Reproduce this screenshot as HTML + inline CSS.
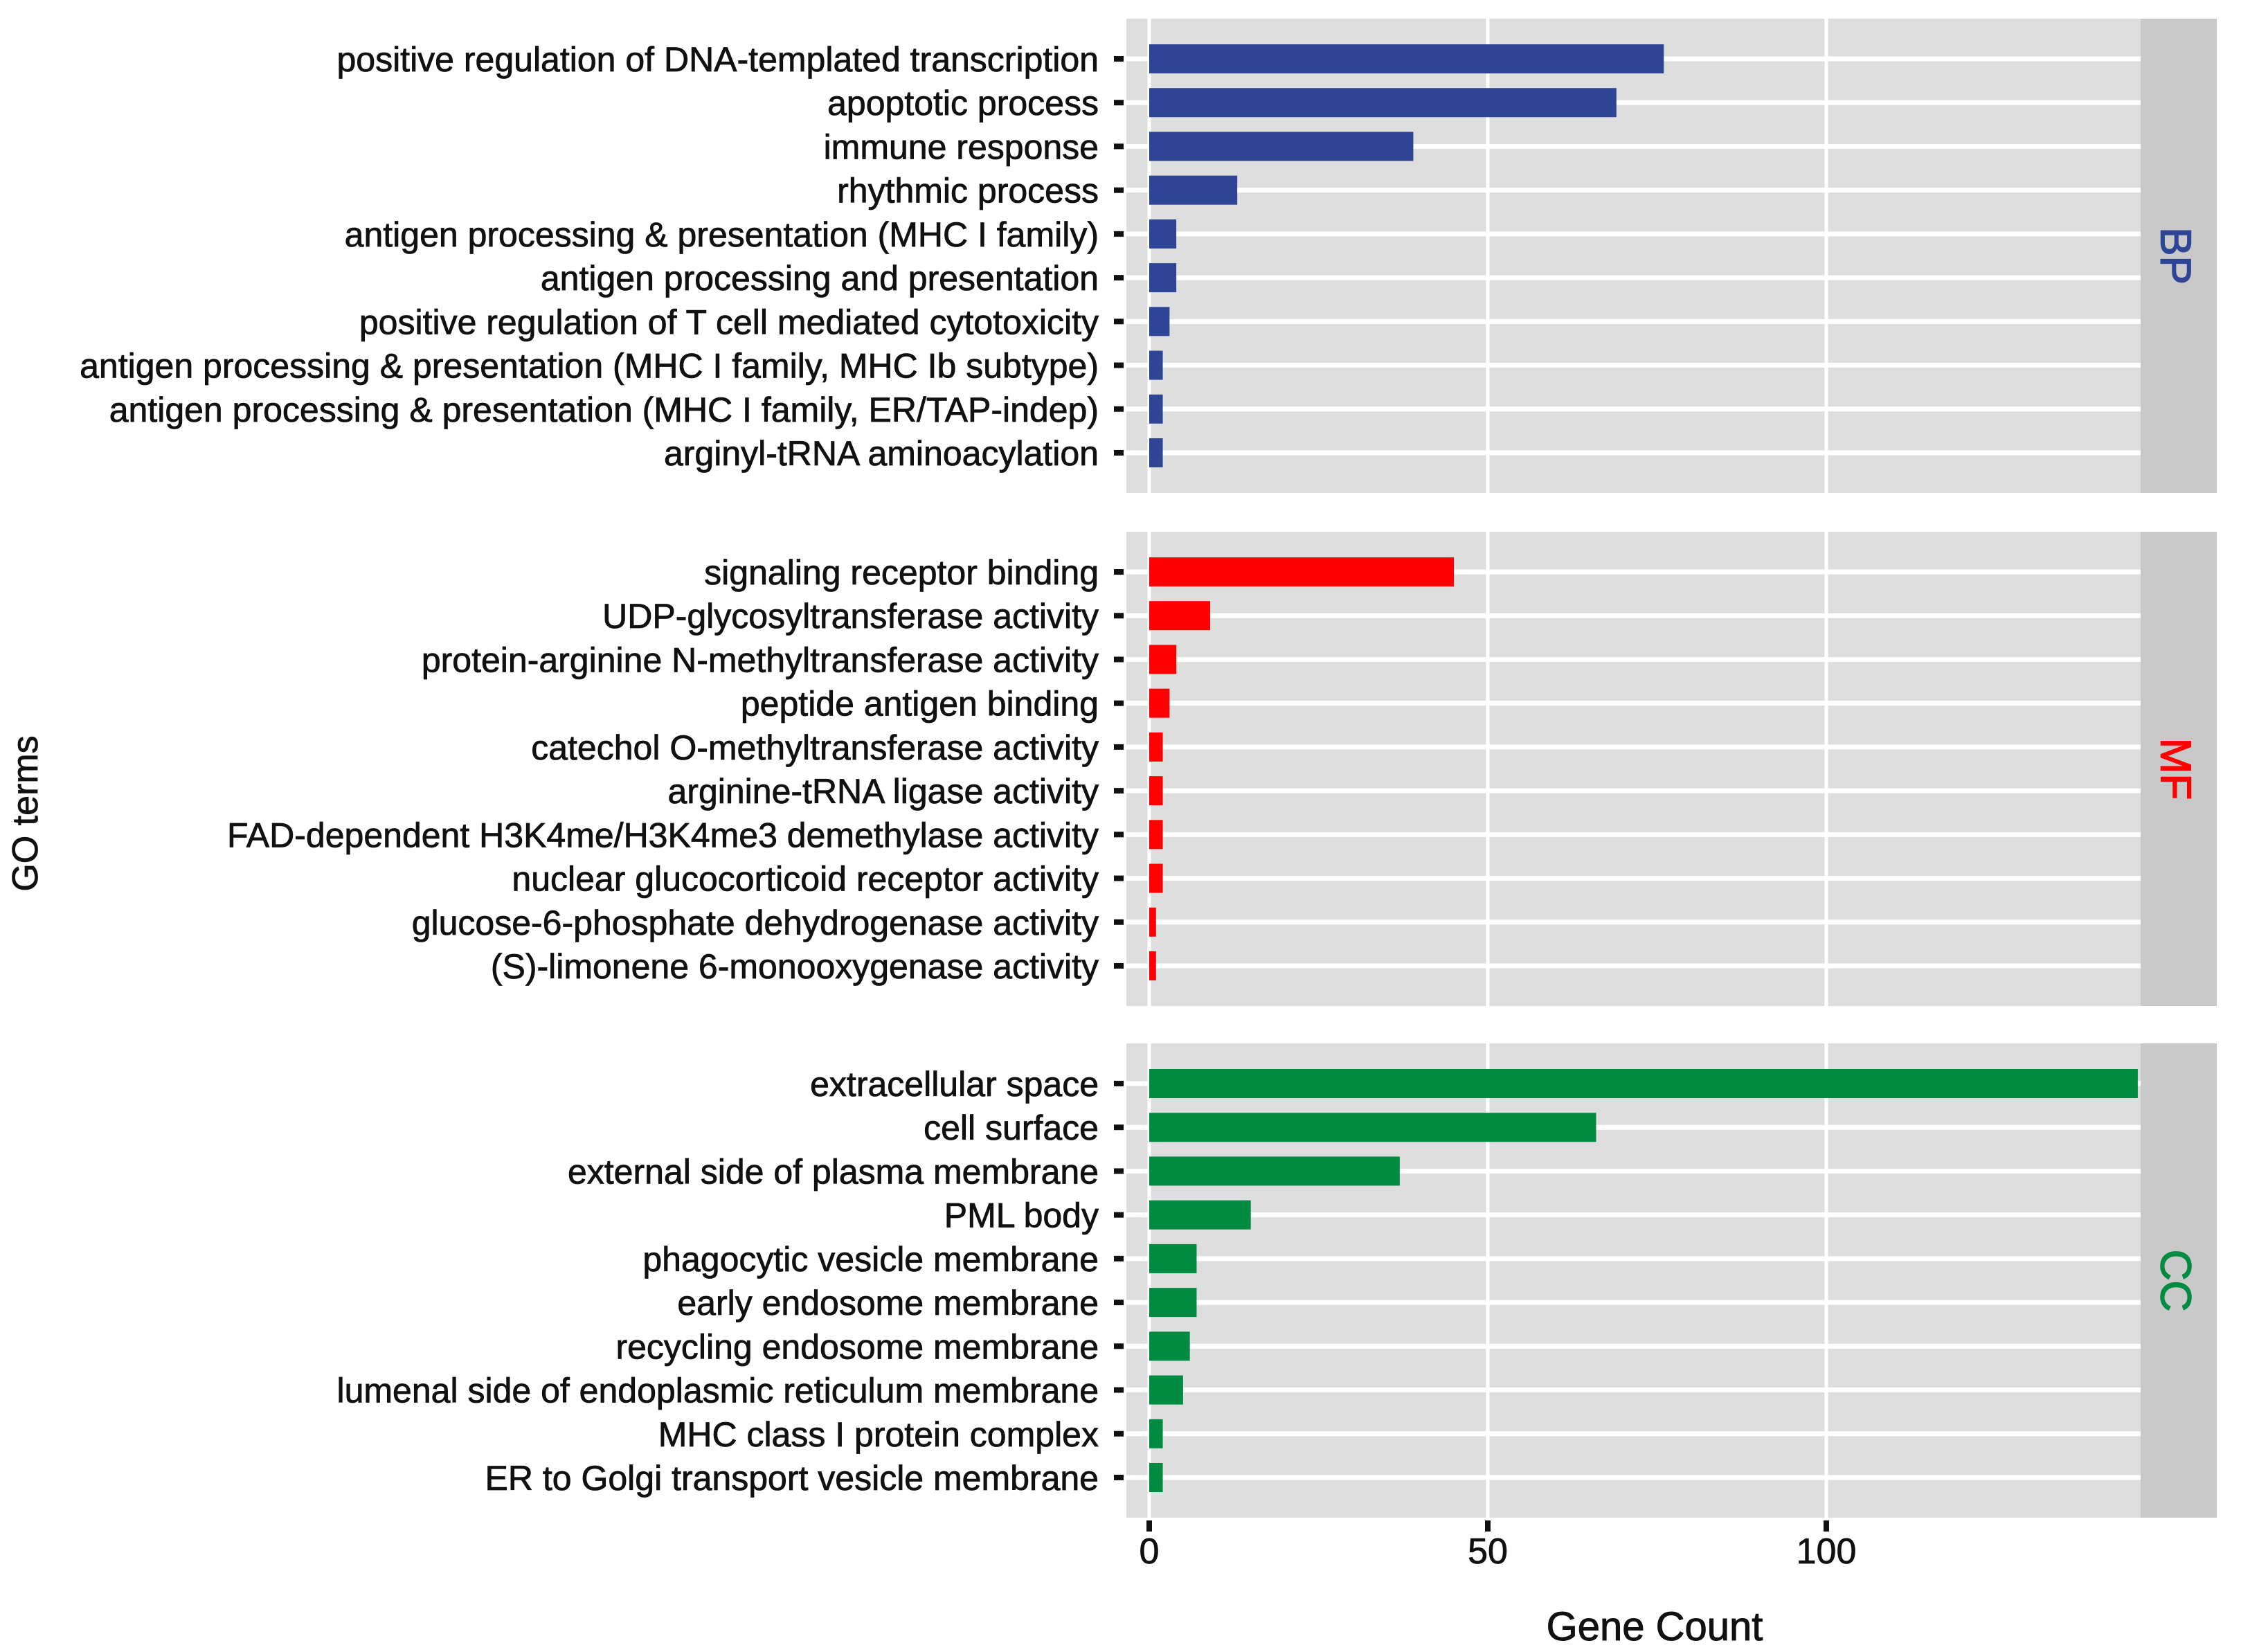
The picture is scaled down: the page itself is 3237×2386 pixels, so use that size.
<!DOCTYPE html>
<html><head><meta charset="utf-8"><style>
html,body{margin:0;padding:0;background:#fff;}
svg{display:block;font-family:"Liberation Sans",Arial,sans-serif;}
</style></head><body>
<svg id="chart" width="3237" height="2386" viewBox="0 0 3237 2386" xmlns="http://www.w3.org/2000/svg"></svg>
<script>
const bpTerms = ["positive regulation of DNA-templated transcription","apoptotic process","immune response","rhythmic process","antigen processing & presentation (MHC I family)","antigen processing and presentation","positive regulation of T cell mediated cytotoxicity","antigen processing & presentation (MHC I family, MHC Ib subtype)","antigen processing & presentation (MHC I family, ER/TAP-indep)","arginyl-tRNA aminoacylation"];
const bpCounts = [76,69,39,13,4,4,3,2,2,2];
const mfTerms = ["signaling receptor binding","UDP-glycosyltransferase activity","protein-arginine N-methyltransferase activity","peptide antigen binding","catechol O-methyltransferase activity","arginine-tRNA ligase activity","FAD-dependent H3K4me/H3K4me3 demethylase activity","nuclear glucocorticoid receptor activity","glucose-6-phosphate dehydrogenase activity","(S)-limonene 6-monooxygenase activity"];
const mfCounts = [45,9,4,3,2,2,2,2,1,1];
const ccTerms = ["extracellular space","cell surface","external side of plasma membrane","PML body","phagocytic vesicle membrane","early endosome membrane","recycling endosome membrane","lumenal side of endoplasmic reticulum membrane","MHC class I protein complex","ER to Golgi transport vesicle membrane"];
const ccCounts = [146,66,37,15,7,7,6,5,2,2];
const panelNames = ["BP","MF","CC"];
const xTicks = [0,50,100];

const svg = document.getElementById('chart');
const NS = "http://www.w3.org/2000/svg";
function mk(tag, attrs, parent){const e=document.createElementNS(NS,tag);for(const k in attrs)e.setAttribute(k,attrs[k]);(parent||svg).appendChild(e);return e;}

const PX0=1627, PX1=3092, SX1=3202;
const X0=1660, PPU=9.78;
function xs(v){return X0+v*PPU;}
const panelTops=[27,768,1507], PH=685;
const colors=["#2E4494","#FF0000","#008B40"];
const termsAll=[bpTerms,mfTerms,ccTerms], countsAll=[bpCounts,mfCounts,ccCounts];

panelNames.forEach((pn,pi)=>{
  const top=panelTops[pi];
  const terms=termsAll[pi], counts=countsAll[pi];
  const n=terms.length;
  const pad=58;
  const step=(PH-2*pad)/(n-1);
  function ys(i){return top+pad+i*step;}
  const bg=mk('rect',{x:PX0,y:top,width:PX1-PX0,height:PH,fill:'#DEDEDE'});
  
  
  xTicks.forEach(t=>{
    const g=mk('line',{x1:xs(t),x2:xs(t),y1:top,y2:top+PH,stroke:'#fff','stroke-width':5});
    
    
  });
  terms.forEach((t,i)=>{
    const y=ys(i);
    const gl=mk('line',{x1:PX0,x2:PX1,y1:y,y2:y,stroke:'#fff','stroke-width':7});
    
    
    const bh=42;
    const b=mk('rect',{x:xs(0),y:y-bh/2,width:Math.max(0,xs(counts[i])-xs(0)),height:bh,fill:colors[pi]});
    
    
    const tk=mk('rect',{x:PX0-18,y:y-4,width:14,height:8,fill:'#111'});
    
    
    const lb=mk('text',{x:PX0-40,y:y+18,'text-anchor':'end','font-size':50,fill:'#111',stroke:'#111','stroke-width':0.8});
    lb.textContent=t;
    
    
  });
  const st=mk('rect',{x:PX1,y:top,width:SX1-PX1,height:PH,fill:'#C9C9C9'});
  
  
  const cy=top+PH/2;
  const sl=mk('text',{x:3142,y:cy,'text-anchor':'middle','font-size':62,fill:colors[pi],stroke:colors[pi],'stroke-width':1.5,transform:`rotate(90 3142 ${cy})`,'dominant-baseline':'central'});
  sl.textContent=pn;
  
  
});

const bottom=panelTops[2]+PH;
xTicks.forEach(t=>{
  const tk=mk('rect',{x:xs(t)-4,y:bottom+4,width:8,height:16,fill:'#111'});
  
  
  const l=mk('text',{x:xs(t),y:2258,'text-anchor':'middle','font-size':52,fill:'#111',stroke:'#111','stroke-width':0.8});
  l.textContent=t;
  
  
});
const xt=mk('text',{x:2390,y:2369,'text-anchor':'middle','font-size':58,fill:'#111',stroke:'#111','stroke-width':1});
xt.textContent="Gene Count";


const yt=mk('text',{x:37,y:1175,'text-anchor':'middle','font-size':52,fill:'#111',stroke:'#111','stroke-width':0.8,transform:'rotate(-90 37 1175)','dominant-baseline':'central'});
yt.textContent="GO terms";


</script>
</body></html>
